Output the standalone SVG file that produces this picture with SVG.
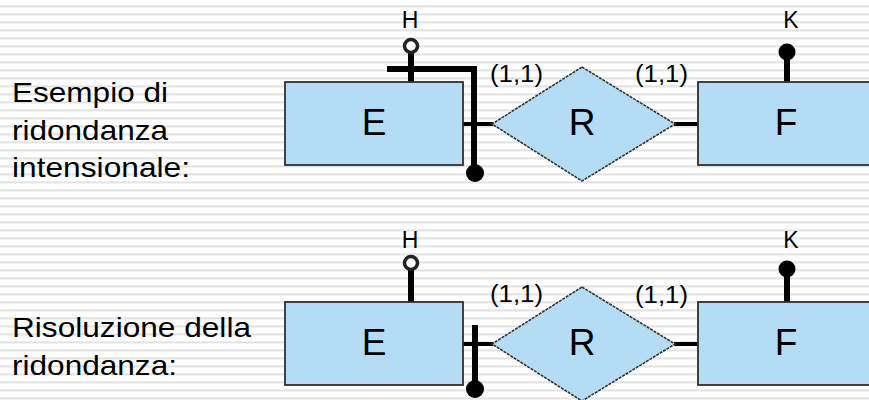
<svg xmlns="http://www.w3.org/2000/svg" width="869" height="400" viewBox="0 0 869 400">
  <defs>
    <pattern id="stripes" patternUnits="userSpaceOnUse" width="869" height="8">
      <rect x="0" y="0" width="869" height="8" fill="#ffffff"/>
      <rect x="0" y="5.4" width="869" height="2" fill="#e2e2e2"/>
    </pattern>
    <style>
      .lbl { font-family: "Liberation Sans", Arial, sans-serif; fill: #000; }
      .side { font-size: 28px; }
      .small { font-size: 23px; }
      .big { font-size: 37px; text-anchor: middle; }
      .ent { fill: #b4dcf4; stroke: #2e2e2e; stroke-width: 1.8; }
      .rel { fill: #b4dcf4; stroke: #333; stroke-width: 1.6; stroke-dasharray: 3 1; }
      .ln { stroke: #000; stroke-width: 4; fill: none; }
      .bold { stroke: #000; stroke-width: 6; fill: none; }
      .open { fill: #fff; stroke: #222; stroke-width: 3.5; }
      .full { fill: #000; }
    </style>
  </defs>
  <rect x="0" y="0" width="869" height="400" fill="url(#stripes)"/>

  <!-- side texts -->
  <g id="caption-top">
    <text class="lbl side" x="12" y="102" textLength="156" lengthAdjust="spacingAndGlyphs">Esempio di</text>
    <text class="lbl side" x="12" y="140" textLength="156" lengthAdjust="spacingAndGlyphs">ridondanza</text>
    <text class="lbl side" x="12" y="177" textLength="178" lengthAdjust="spacingAndGlyphs">intensionale:</text>
  </g>
  <g id="caption-bottom">
    <text class="lbl side" x="12" y="337" textLength="239" lengthAdjust="spacingAndGlyphs">Risoluzione della</text>
    <text class="lbl side" x="12" y="375" textLength="165" lengthAdjust="spacingAndGlyphs">ridondanza:</text>
  </g>

  <!-- connectors -->
  <g id="connectors">
    <!-- top row -->
    <line class="ln" x1="463" y1="124" x2="493" y2="124"/>
    <line class="ln" x1="674" y1="124" x2="699" y2="124"/>
    <line class="bold" x1="411" y1="52" x2="411" y2="82"/>
    <line class="bold" x1="787" y1="55" x2="787" y2="82"/>
    <polyline class="bold" points="387,69 474,69 474,172"/>
    <!-- bottom row -->
    <line class="ln" x1="463" y1="344" x2="493" y2="344"/>
    <line class="ln" x1="674" y1="344" x2="699" y2="344"/>
    <line class="bold" x1="411" y1="270" x2="411" y2="302"/>
    <line class="bold" x1="787" y1="272" x2="787" y2="302"/>
    <line class="bold" x1="475" y1="325" x2="475" y2="386"/>
  </g>

  <!-- top row nodes -->
  <g id="E1">
    <rect class="ent" x="285" y="82" width="178" height="83"/>
    <text class="lbl big" x="374" y="135">E</text>
  </g>
  <g id="R1">
    <polygon class="rel" points="582,67 675,124 582,181 492,124"/>
    <text class="lbl big" x="582" y="135">R</text>
  </g>
  <g id="F1">
    <rect class="ent" x="698" y="82" width="190" height="83"/>
    <text class="lbl big" x="786" y="135">F</text>
  </g>
  <g id="H1">
    <circle class="open" cx="411" cy="46" r="6.5"/>
    <text class="lbl small" x="410" y="28" text-anchor="middle">H</text>
  </g>
  <g id="K1">
    <circle class="full" cx="787" cy="52" r="8.5"/>
    <text class="lbl small" x="791" y="28" text-anchor="middle">K</text>
  </g>
  <g id="EH1">
    <circle class="full" cx="475" cy="173" r="9"/>
  </g>
  <g id="card1">
    <text class="lbl small" x="490" y="82" textLength="53" lengthAdjust="spacingAndGlyphs">(1,1)</text>
    <text class="lbl small" x="635" y="82" textLength="53" lengthAdjust="spacingAndGlyphs">(1,1)</text>
  </g>

  <!-- bottom row nodes -->
  <g id="E2">
    <rect class="ent" x="285" y="302" width="178" height="83"/>
    <text class="lbl big" x="374" y="355">E</text>
  </g>
  <g id="R2">
    <polygon class="rel" points="582,287 675,344 582,401 492,344"/>
    <text class="lbl big" x="582" y="355">R</text>
  </g>
  <g id="F2">
    <rect class="ent" x="698" y="302" width="190" height="83"/>
    <text class="lbl big" x="786" y="355">F</text>
  </g>
  <g id="H2">
    <circle class="open" cx="411" cy="263" r="6.5"/>
    <text class="lbl small" x="410" y="248" text-anchor="middle">H</text>
  </g>
  <g id="K2">
    <circle class="full" cx="787" cy="269" r="8.5"/>
    <text class="lbl small" x="791" y="248" text-anchor="middle">K</text>
  </g>
  <g id="EH2">
    <circle class="full" cx="475" cy="389" r="9"/>
  </g>
  <g id="card2">
    <text class="lbl small" x="490" y="302" textLength="53" lengthAdjust="spacingAndGlyphs">(1,1)</text>
    <text class="lbl small" x="635" y="303" textLength="53" lengthAdjust="spacingAndGlyphs">(1,1)</text>
  </g>
</svg>
